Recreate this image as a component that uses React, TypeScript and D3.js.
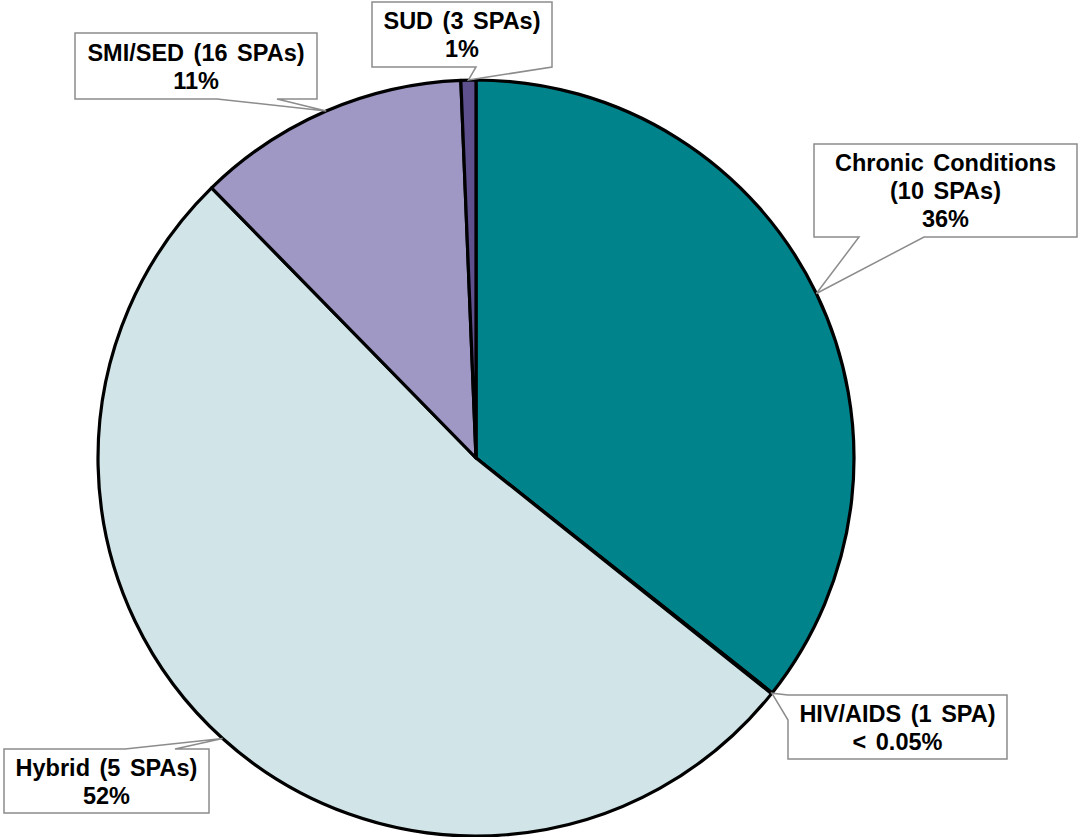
import React, { useEffect, useRef } from 'react';
import * as d3 from 'd3';

// data
const categories = ['Chronic Conditions', 'HIV/AIDS', 'Hybrid', 'SMI/SED', 'SUD'];
const shares = [35.7, 0.04, 52.0, 11.7, 0.64];
const labelLines = [
    ['Chronic Conditions', '(10 SPAs)', '36%'],
    ['HIV/AIDS (1 SPA)', '< 0.05%'],
    ['Hybrid (5 SPAs)', '52%'],
    ['SMI/SED (16 SPAs)', '11%'],
    ['SUD (3 SPAs)', '1%'],
];
const colors = ['#00838A', '#00838A', '#D1E5E8', '#9F97C4', '#5E4F8D'];

// callout box layout: x, y, w, h, edge the wedge leaves from, wedge base offsets along that edge
const callouts = [
    { x: 814, y: 144, w: 263, h: 93, edge: 'bottom', a: 45, b: 110 },
    { x: 788, y: 695, w: 219, h: 64, edge: 'left', a: 0, b: 25 },
    { x: 4, y: 749, w: 205, h: 64, edge: 'top', a: 121, b: 171 },
    { x: 75, y: 33, w: 242, h: 66, edge: 'bottom', a: 142, b: 202 },
    { x: 372, y: 2, w: 180, h: 65, edge: 'bottom', a: 104, b: 180 },
];

const W = 1078;
const H = 837;

const calloutPath = (c: typeof callouts[number], tip: [number, number]) => {
    const { x, y, w, h, edge, a, b } = c;
    const t = `${tip[0]},${tip[1]}`;
    if (edge === 'bottom') {
        return `M${x},${y}H${x + w}V${y + h}H${x + b}L${t}L${x + a},${y + h}H${x}Z`;
    }
    if (edge === 'top') {
        return `M${x},${y}H${x + a}L${t}L${x + b},${y}H${x + w}V${y + h}H${x}Z`;
    }
    if (edge === 'left') {
        return `M${x},${y + a}L${t}L${x},${y + b}V${y + h}H${x + w}V${y}H${x}Z`;
    }
    return `M${x},${y}H${x + w}V${y + a}L${t}L${x + w},${y + b}V${y + h}H${x}Z`;
};

const App = () => {
    const svgRef = useRef<SVGSVGElement>(null);

    useEffect(() => {
        if (!svgRef.current) return;
        const svg = d3.select(svgRef.current);
        svg.selectAll('*').remove();

        const cx = 476;
        const cy = 458;
        const radius = 378;

        const pie = d3.pie<number>().sort(null).value(d => d);
        const arcs = pie(shares);
        const arc = d3.arc<d3.PieArcDatum<number>>().innerRadius(0).outerRadius(radius);

        const g = svg.append('g').attr('transform', `translate(${cx},${cy})`);

        g.selectAll('path.slice')
            .data(arcs)
            .join('path')
            .attr('class', 'slice')
            .attr('d', arc)
            .attr('fill', (d, i) => colors[i])
            .attr('stroke', '#000')
            .attr('stroke-width', 3.2)
            .attr('stroke-linejoin', 'round');

        // callouts
        const labels = svg.append('g')
            .attr('font-family', '"Liberation Sans", Arial, sans-serif')
            .attr('font-weight', 'bold')
            .attr('font-size', 23.5)
            .attr('word-spacing', 3);

        arcs.forEach((d, i) => {
            const mid = (d.startAngle + d.endAngle) / 2;
            const tip: [number, number] = [cx + Math.sin(mid) * radius, cy - Math.cos(mid) * radius];
            const c = callouts[i];
            labels.append('path')
                .attr('d', calloutPath(c, tip))
                .attr('fill', '#fff')
                .attr('stroke', '#8c8c8c')
                .attr('stroke-width', 1.5);

            const lines = labelLines[i];
            const lh = 28;
            const firstBase = c.y + c.h / 2 - (lines.length - 1) * lh / 2 + 8.5;
            const text = labels.append('text')
                .attr('text-anchor', 'middle')
                .attr('fill', '#000');
            lines.forEach((line, j) => {
                text.append('tspan')
                    .attr('x', c.x + c.w / 2)
                    .attr('y', firstBase + j * lh)
                    .text(line);
            });
        });
        svg.attr('aria-label', categories.join(', '));
    }, []);

    return (
        <div>
            <style>{'body{margin:0;}'}</style>
            <svg ref={svgRef} width={W} height={H} style={{ display: 'block', background: '#fff' }} />
        </div>
    );
};

export default App;
